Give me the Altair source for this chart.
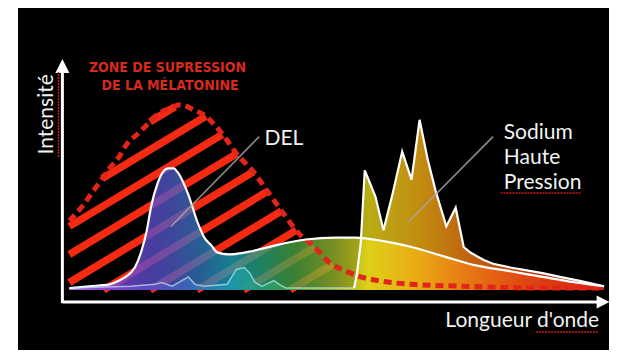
import altair as alt
import numpy as np
import pandas as pd

# ---------------- data ----------------
# Melatonin suppression zone (red dashed, hatched)
MEL_WL = [380, 390, 397, 404, 410, 417, 423, 432, 439, 446, 455, 463, 474, 482, 489,
          498, 505, 518, 529, 540, 552, 562, 574, 587, 598, 611, 636, 675, 734, 780]
MEL_I = [0.37, 0.45, 0.52, 0.59, 0.65, 0.71, 0.78, 0.84, 0.89, 0.94, 0.97, 0.99, 0.96, 0.93, 0.88,
         0.80, 0.73, 0.63, 0.52, 0.41, 0.30, 0.24, 0.15, 0.10, 0.07, 0.05, 0.03, 0.02, 0.01, 0.01]

# LED (DEL) spectrum
DEL_WL = [380, 395, 410, 417, 422, 429, 434, 438, 441, 446, 450, 454, 458, 461, 469, 476, 481,
          486, 491, 500, 518, 535, 557, 579, 594, 616, 636, 660, 685, 710, 734, 759, 780]
DEL_I = [0.01, 0.02, 0.03, 0.05, 0.07, 0.12, 0.21, 0.32, 0.44, 0.57, 0.63, 0.65, 0.65, 0.63, 0.51, 0.36, 0.28,
         0.24, 0.20, 0.19, 0.21, 0.24, 0.27, 0.28, 0.28, 0.26, 0.23, 0.18, 0.13, 0.10, 0.07, 0.04, 0.02]

# High pressure sodium spectrum
NA_WL = [380, 426, 444, 449, 457, 469, 474, 481, 498, 505, 511, 515, 519, 524, 533, 537, 542, 579, 593, 595,
         598, 601, 609, 615, 622, 629, 636, 642, 648, 654, 662, 669, 675, 680, 690, 697, 710, 734, 747, 761, 780]
NA_I = [0.01, 0.02, 0.03, 0.04, 0.02, 0.07, 0.03, 0.02, 0.03, 0.11, 0.12, 0.09, 0.04, 0.02, 0.05, 0.03, 0.01, 0.01, 0.01, 0.08,
        0.25, 0.64, 0.50, 0.32, 0.52, 0.74, 0.59, 0.91, 0.70, 0.53, 0.34, 0.44, 0.23, 0.20, 0.16, 0.14, 0.12, 0.09, 0.07, 0.05, 0.02]
NA_SPLIT = 593  # where the sodium emission rises strongly

# hatch stripes of the melatonin zone: intercept at 380 nm and slope
STRIPE_INTERCEPTS = [0.64, 0.49, 0.34, 0.19, 0.04, -0.11, -0.26, -0.41, -0.56, -0.71]
STRIPE_SLOPE = 0.0043

# annotation pointers
DEL_PTR_WL, DEL_PTR_I = [522, 456], [0.82, 0.34]
NA_PTR_WL, NA_PTR_I = [697, 633], [0.82, 0.36]

X_DOMAIN = [341.6, 783.7]
Y_DOMAIN = [-0.321, 1.508]

# ---------------- helpers ----------------
xs = alt.Scale(domain=X_DOMAIN, nice=False, zero=False)
ys = alt.Scale(domain=Y_DOMAIN, nice=False, zero=False)


def X(f="x"):
    return alt.X(f"{f}:Q", scale=xs, axis=None)


def Y(f="y"):
    return alt.Y(f"{f}:Q", scale=ys, axis=None)


mel = pd.DataFrame({"x": MEL_WL, "y": MEL_I})
led = pd.DataFrame({"x": DEL_WL, "y": DEL_I})
na = pd.DataFrame({"x": NA_WL, "y": NA_I})

# stripes clipped to the melatonin zone
lam = np.linspace(MEL_WL[0], MEL_WL[-1], 4001)
mel_dense = np.interp(lam, MEL_WL, MEL_I)
rows = []
for c in STRIPE_INTERCEPTS:
    s = c + STRIPE_SLOPE * (lam - MEL_WL[0])
    idx = np.flatnonzero((s <= mel_dense) & (s >= 0))
    if len(idx) == 0:
        continue
    br = np.flatnonzero(np.diff(idx) > 1)
    starts = np.r_[idx[0], idx[br + 1]]
    ends = np.r_[idx[br], idx[-1]]
    for a, b in zip(starts, ends):
        rows.append({"x": lam[a], "y": s[a], "x2": lam[b], "y2": s[b]})
stripes = pd.DataFrame(rows)

SPECTRUM = [
    (0.00, "#b878e8"), (0.07, "#8a46dc"), (0.15, "#5c4ac8"), (0.20, "#4a5cc0"),
    (0.25, "#2f78b8"), (0.30, "#1c9cb4"), (0.36, "#26a07a"), (0.42, "#48a040"),
    (0.50, "#9cb428"), (0.56, "#e8d81a"), (0.65, "#f2b214"), (0.74, "#f08014"),
    (0.85, "#e84a12"), (1.00, "#e02012"),
]
grad = alt.Gradient(gradient="linear", x1=0, y1=0, x2=1, y2=0,
                    stops=[alt.GradientStop(offset=o, color=c) for o, c in SPECTRUM])

layers = []

layers.append(alt.Chart(stripes).mark_rule(color="#f52a12", strokeWidth=7.5, strokeCap="butt").encode(
    x=X("x"), y=Y("y"), x2="x2:Q", y2="y2:Q"))

layers.append(alt.Chart(led).mark_area(color=grad, opacity=0.8, interpolate="monotone").encode(
    x=X(), y=Y(), y2=alt.datum(0)))

layers.append(alt.Chart(na).mark_area(color=grad, opacity=0.8, interpolate="linear").encode(
    x=X(), y=Y(), y2=alt.datum(0)))

layers.append(alt.Chart(mel).mark_line(color="#e3241a", strokeWidth=5, strokeDash=[8, 5],
                                       interpolate="monotone").encode(x=X(), y=Y()))

layers.append(alt.Chart(led).mark_line(color="white", strokeWidth=2.2, interpolate="monotone").encode(
    x=X(), y=Y()))

layers.append(alt.Chart(na).transform_filter(alt.datum.x <= NA_SPLIT).mark_line(
    color="#bfeaf2", strokeWidth=1.5, opacity=0.7).encode(x=X(), y=Y()))
layers.append(alt.Chart(na).transform_filter(alt.datum.x >= NA_SPLIT).mark_line(
    color="white", strokeWidth=2.2, strokeJoin="miter").encode(x=X(), y=Y()))

ptr = pd.DataFrame({"x": [DEL_PTR_WL[0], NA_PTR_WL[0]], "y": [DEL_PTR_I[0], NA_PTR_I[0]],
                    "x2": [DEL_PTR_WL[1], NA_PTR_WL[1]], "y2": [DEL_PTR_I[1], NA_PTR_I[1]]})
layers.append(alt.Chart(ptr).mark_rule(color="#a8a8a8", strokeWidth=1.5, opacity=0.85).encode(
    x=X("x"), y=Y("y"), x2="x2:Q", y2="y2:Q"))

# axes drawn as arrows
axes = pd.DataFrame({"x": [374.8, 374.8], "y": [-0.07, -0.064], "x2": [374.8, 777.0], "y2": [1.18, -0.064]})
layers.append(alt.Chart(axes).mark_rule(color="white", strokeWidth=3).encode(
    x=X("x"), y=Y("y"), x2="x2:Q", y2="y2:Q"))
layers.append(alt.Chart(pd.DataFrame({"x": [374.8], "y": [1.198]})).mark_point(
    shape="M0,-1L1,1L-1,1Z", size=196, filled=True, color="white", opacity=1).encode(x=X(), y=Y()))
layers.append(alt.Chart(pd.DataFrame({"x": [779.3], "y": [-0.064]})).mark_point(
    shape="M-1,-1L1,0L-1,1Z", size=169, filled=True, color="white", opacity=1).encode(x=X(), y=Y()))

# spell-check style underlines
ul = pd.DataFrame({"x": [702.5, 729.1, 371.9], "y": [0.519, -0.225, 0.711],
                   "x2": [762.3, 775.6, 371.9], "y2": [0.519, -0.225, 1.166]})
layers.append(alt.Chart(ul).mark_rule(color="#d01818", strokeWidth=1.5, strokeDash=[2, 1]).encode(
    x=X("x"), y=Y("y"), x2="x2:Q", y2="y2:Q"))

# texts
lab = pd.DataFrame({"x": [526, 705, 705, 705], "y": [0.775, 0.807, 0.674, 0.540],
                    "t": ["DEL", "Sodium", "Haute", "Pression"]})
layers.append(alt.Chart(lab).mark_text(font="Lato", fontSize=21, color="#f2f2f2", align="left",
                                       baseline="alphabetic").encode(x=X(), y=Y(), text="t:N"))
layers.append(alt.Chart(pd.DataFrame({"x": [776.3], "y": [-0.198], "t": ["Longueur d'onde"]})).mark_text(
    font="Lato", fontSize=21, color="#f2f2f2", align="right", baseline="alphabetic").encode(
    x=X(), y=Y(), text="t:N"))
layers.append(alt.Chart(pd.DataFrame({"x": [367.5], "y": [0.939], "t": ["Intensité"]})).mark_text(
    font="Lato", fontSize=21, color="#f2f2f2", align="center", baseline="alphabetic", angle=270).encode(
    x=X(), y=Y(), text="t:N"))
zone = pd.DataFrame({"x": [453.4, 455.3], "y": [1.166, 1.070],
                     "t": ["ZONE DE SUPRESSION", "DE LA MÉLATONINE"]})
layers.append(alt.Chart(zone).mark_text(font="DejaVu Sans Condensed", fontSize=14,
                                        fontWeight="bold", color="#d82a1c", align="center",
                                        baseline="alphabetic").encode(x=X(), y=Y(), text="t:N"))

chart = alt.layer(*layers).properties(
    width=591, height=342,
    autosize=alt.AutoSizeParams(type="none"),
    padding={"left": 10, "top": 0, "right": 0, "bottom": 0},
    background="white",
).configure_view(fill="black", stroke=None)

chart.save("out.html", embed_options={"renderer": "svg", "actions": False})
